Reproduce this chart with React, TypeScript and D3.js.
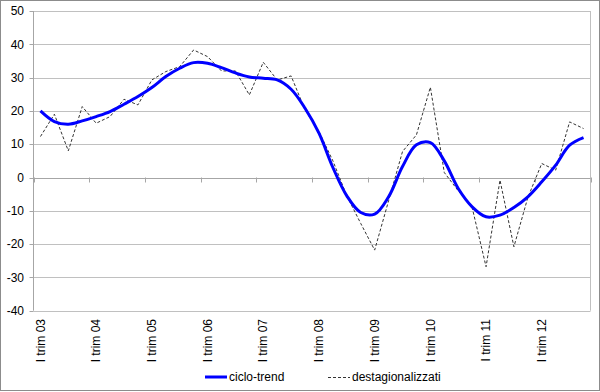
import React from 'react';
import * as d3 from 'd3';

// quarterly data, I trim 03 .. IV trim 12
const years = ['03', '04', '05', '06', '07', '08', '09', '10', '11', '12'];
const cicloTrend = [
  20, 16.8, 16, 17, 18.3, 19.8, 22, 24.3, 27, 30.3,
  32.8, 34.5, 34.3, 33, 31.4, 30.2, 29.8, 29.3, 26.5, 20.8,
  13.3, 3, -5.5, -10.5, -11, -5.8, 3.3, 9.8, 10.5, 5,
  -3.3, -8.8, -11.8, -11.3, -9, -5.8, -1.3, 3.7, 9.7, 12,
];
const destag = [
  12.3, 19, 8, 21.3, 16.3, 18.3, 23.5, 21.8, 29.3, 31.8,
  33.3, 38.3, 36.3, 32, 32, 24.8, 34.6, 29.3, 30.5, 20.3,
  13.8, 5, -5.5, -13.8, -21.8, -7, 7.8, 12.8, 27.1, 1.5,
  -4, -9, -26.8, -0.8, -20.8, -6, 4.2, 2.2, 16.7, 14.7,
];
const yTicks = [50, 40, 30, 20, 10, 0, -10, -20, -30, -40];

const W = 600;
const H = 392;
const font = 'Liberation Sans, Arial, sans-serif';

export default function App() {
  const n = cicloTrend.length;
  const x = d3.scaleLinear().domain([0, n]).range([33.5, 590.5]);
  const y = d3.scaleLinear().domain([-40, 50]).range([310.7, 11]);
  const cx = (i: number) => x(i + 0.5);

  const trendLine = d3.line<number>()
    .x((d, i) => cx(i))
    .y(d => y(d))
    .curve(d3.curveCatmullRom.alpha(0.5));
  const destLine = d3.line<number>()
    .x((d, i) => cx(i))
    .y(d => y(d));

  const boundaries = d3.range(0, n + 1, 4);

  return (
    <svg width={W} height={H} style={{ position: 'absolute', left: 0, top: 0 }} fontFamily={font}>
      <rect x={0} y={0} width={W} height={H} fill="#fff" />
      <rect x={0.5} y={0.5} width={W - 1} height={390} fill="none" stroke="#8c8c8c" />

      {/* gridlines */}
      {yTicks.map(t => (
        <line key={t} x1={x(0)} x2={x(n)} y1={Math.round(y(t)) + 0.5} y2={Math.round(y(t)) + 0.5} stroke="#c0c0c0" />
      ))}
      <line x1={x(n)} x2={x(n)} y1={y(50)} y2={y(-40)} stroke="#c0c0c0" />

      {/* y axis */}
      <line x1={x(0)} x2={x(0)} y1={y(50)} y2={y(-40)} stroke="#a6a6a6" />
      {yTicks.map(t => (
        <g key={t}>
          <line x1={x(0) - 4} x2={x(0)} y1={Math.round(y(t)) + 0.5} y2={Math.round(y(t)) + 0.5} stroke="#a6a6a6" />
          <text x={24} y={y(t)} dy="0.35em" textAnchor="end" fontSize={12} fill="#000">{t}</text>
        </g>
      ))}

      {/* x axis at zero */}
      <line x1={x(0)} x2={x(n)} y1={Math.round(y(0)) + 0.5} y2={Math.round(y(0)) + 0.5} stroke="#a6a6a6" />
      {boundaries.map(b => (
        <line key={b} x1={Math.round(x(b)) + 0.5} x2={Math.round(x(b)) + 0.5} y1={y(0)} y2={y(0) + 5} stroke="#a6a6a6" />
      ))}
      {years.map((yr, k) => (
        <text key={yr} transform={`translate(${cx(k * 4)},319) rotate(-90)`} dy="0.35em" textAnchor="end" fontSize={12} fill="#000">
          {`I trim ${yr}`}
        </text>
      ))}

      {/* series */}
      <path d={destLine(destag) ?? ''} fill="none" stroke="#333" strokeWidth={1} strokeDasharray="3,2" />
      <path d={trendLine(cicloTrend) ?? ''} fill="none" stroke="#0000ff" strokeWidth={3} strokeLinejoin="round" />

      {/* legend */}
      <line x1={205} x2={227} y1={377} y2={377} stroke="#0000ff" strokeWidth={3} />
      <text x={229} y={377} dy="0.35em" fontSize={12} fill="#000">ciclo-trend</text>
      <line x1={328} x2={350} y1={377.5} y2={377.5} stroke="#333" strokeWidth={1} strokeDasharray="3,2" />
      <text x={352} y={377} dy="0.35em" fontSize={12} fill="#000">destagionalizzati</text>
    </svg>
  );
}
